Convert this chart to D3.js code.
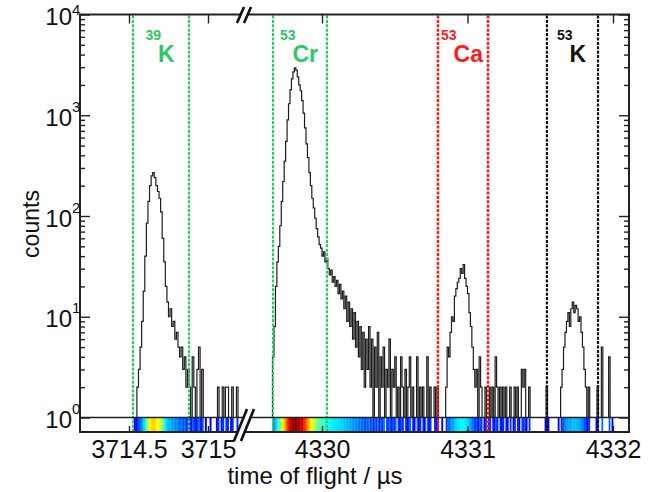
<!DOCTYPE html>
<html>
<head>
<meta charset="utf-8">
<script src="https://cdn.jsdelivr.net/npm/d3@7"></script>
<style>
  body { margin: 0; background: #fff; }
  svg { display: block; }
  text { font-family: "Liberation Sans", Arial, Helvetica, sans-serif; }
</style>
</head>
<body>
<svg id="chart" width="648" height="492"></svg>
<script>
// Time-of-flight spectrum (counts per 0.01 µs bin) on a broken time axis.
const binWidth = 0.01;

// Left part of the axis: 39K reference ions
const leftStart = 3714.52;
const leftCounts = [
  0,1,1,2,3,5,9,18,40,85,
  140,200,250,270,240,200,175,150,110,60,
  35,20,14,10,12,8,9,6,7,5,
  4,5,3,4,2,3,2,1,4,2,
  1,3,5,1,3,0,1,0,0,1,
  0,0,0,1,2,0,1,2,0,2,
  2,0,1,2,0,0,2,0
];

// Right part of the axis: 53Cr, 53Ca and 53K
const rightStart = 4329.65;
const rightCounts = [
  0,4,8,20,35,50,80,140,220,350,
  550,900,1300,1800,2300,2700,2950,2800,2400,2000,
  1750,1400,1050,750,520,380,270,200,150,120,
  95,75,62,52,48,40,44,35,38,30,
  26,29,22,25,20,23,17,21,15,18,
  12,16,9,14,8,12,6,11,5,9,
  4,8,3,7,2,6,3,8,2,6,
  1,5,2,7,1,4,2,5,0,3,
  2,6,1,3,2,4,0,2,1,4,
  2,0,3,1,2,4,0,2,1,0,
  4,1,2,0,2,1,0,4,1,2,
  0,0,2,1,2,0,0,1,0,0,
  2,5,4,7,10,9,16,19,22,24,
  30,27,33,24,20,17,11,8,5,3,
  2,3,1,4,2,0,1,2,0,1,
  2,0,2,1,4,2,0,2,1,2,
  0,2,1,0,2,0,1,2,0,2,
  1,0,3,2,3,1,0,2,0,0,
  0,0,0,0,0,0,0,0,1,2,
  1,0,0,0,0,0,0,1,0,2,
  3,5,7,9,11,8,12,14,11,13,
  12,9,10,7,5,3,2,1,2,0,
  0,0,0,1,2,0,0,5,0,0,
  0,0,4,0,1,0,0,0,0,0,
  0,0,0,0,0,0
];

// Tick values
const leftTicks = [3714.5, 3715];
const rightTicks = [4330, 4331, 4332];
const yTicks = [1, 10, 100, 1000, 10000];

// Time windows of the identified species
const windowMass   = ["39", "53", "53", "53"];
const windowSymbol = ["K", "Cr", "Ca", "K"];
const windowSide   = ["left", "right", "right", "right"];
const windowLo     = [3714.525, 4329.663, 4330.797, 4331.546];
const windowHi     = [3714.880, 4330.034, 4331.141, 4331.897];

// ---------------------------------------------------------------------------
const windowColors = ["#2ec865", "#2ec865", "#ff1a1a", "#111111"];

const svg = d3.select("#chart");
const W = 648, H = 492;
const frame = { left: 80, right: 629, top: 14.5, bottom: 432, stripTop: 417.5 };
const segL = [frame.left, 241];
const segR = [247, frame.right];
const breakX = 244;

const xL = d3.scaleLinear().domain([3714.5, 3715]).range([129, 208]);
const xR = d3.scaleLinear().domain([4330, 4332]).range([322, 613]);
const y = d3.scaleLog().domain([1, 1e4]).range([frame.stripTop, frame.top]);
const yv = c => c > 0 ? y(c) : frame.bottom + 30;

// jet colour map for the intensity strip
function jet(t) {
  const c = v => Math.max(0, Math.min(1, v));
  return d3.rgb(
    255 * c(1.5 - Math.abs(4 * t - 3)),
    255 * c(1.5 - Math.abs(4 * t - 2)),
    255 * c(1.5 - Math.abs(4 * t - 1)));
}
const stripT = d3.scaleLog().domain([1, 30, 3000]).range([0.12, 0.375, 1]).clamp(true);

svg.append("rect").attr("width", W).attr("height", H).attr("fill", "#fff");

const defs = svg.append("defs");
[["clipL", segL], ["clipR", segR]].forEach(([id, seg]) => {
  defs.append("clipPath").attr("id", id).append("rect")
    .attr("x", seg[0]).attr("y", frame.top)
    .attr("width", seg[1] - seg[0]).attr("height", frame.stripTop - frame.top);
  defs.append("clipPath").attr("id", id + "s").append("rect")
    .attr("x", seg[0]).attr("y", frame.stripTop)
    .attr("width", seg[1] - seg[0]).attr("height", frame.bottom - frame.stripTop);
});

const segments = [
  { x: xL, start: leftStart, counts: leftCounts, clip: "clipL" },
  { x: xR, start: rightStart, counts: rightCounts, clip: "clipR" }
];

// intensity strip below the spectrum
segments.forEach(s => {
  const bins = s.counts.map((c, i) => ({ t: s.start + i * binWidth, c })).filter(b => b.c > 0);
  const bw = s.x(s.start + binWidth) - s.x(s.start);
  svg.append("g").attr("clip-path", `url(#${s.clip}s)`)
    .selectAll("rect").data(bins).join("rect")
    .attr("x", b => s.x(b.t))
    .attr("y", frame.stripTop)
    .attr("width", bw + 0.4)
    .attr("height", frame.bottom - frame.stripTop)
    .attr("fill", b => jet(stripT(b.c)));
});

// histogram as a step line
const line = d3.line().curve(d3.curveStepAfter);
segments.forEach(s => {
  const pts = s.counts.map((c, i) => [s.x(s.start + i * binWidth), yv(c)]);
  pts.push([s.x(s.start + s.counts.length * binWidth), yv(0)]);
  svg.append("path")
    .attr("clip-path", `url(#${s.clip})`)
    .attr("d", line(pts))
    .attr("fill", "none")
    .attr("stroke", "#1c1c1c")
    .attr("stroke-width", 1.2)
    .attr("stroke-linejoin", "miter");
});

// dashed window boundaries
windowLo.forEach((lo, i) => {
  const sx = windowSide[i] === "left" ? xL : xR;
  [lo, windowHi[i]].forEach(t => {
    svg.append("line")
      .attr("x1", sx(t)).attr("x2", sx(t))
      .attr("y1", frame.top + 1).attr("y2", frame.bottom)
      .attr("stroke", windowColors[i])
      .attr("stroke-width", i === 2 ? 2.5 : 2.2)
      .attr("stroke-dasharray", "3,1.4");
  });
});

// frame and strip separator
const ink = "#222";
svg.append("rect")
  .attr("x", frame.left).attr("y", frame.top)
  .attr("width", frame.right - frame.left).attr("height", frame.bottom - frame.top)
  .attr("fill", "none").attr("stroke", ink).attr("stroke-width", 2);
svg.append("line")
  .attr("x1", frame.left).attr("x2", frame.right)
  .attr("y1", frame.stripTop).attr("y2", frame.stripTop)
  .attr("stroke", ink).attr("stroke-width", 1.6);

// y axes (log): inward ticks on both sides
const minorY = [];
[1, 10, 100, 1000].forEach(d => { for (let k = 2; k <= 9; k++) minorY.push(d * k); });

function styleAxis(g) {
  g.select(".domain").remove();
  g.attr("color", ink);
  g.selectAll(".tick line").attr("stroke-width", 1.4);
  return g;
}

const gyL = svg.append("g").attr("transform", `translate(${frame.left},0)`)
  .call(d3.axisLeft(y).tickValues(yTicks).tickSizeInner(-10).tickSizeOuter(0).tickFormat(""));
styleAxis(gyL);
svg.append("g").attr("transform", `translate(${frame.left},0)`)
  .call(d3.axisLeft(y).tickValues(minorY).tickSizeInner(-5).tickSizeOuter(0).tickFormat(""))
  .call(styleAxis);
svg.append("g").attr("transform", `translate(${frame.right},0)`)
  .call(d3.axisRight(y).tickValues(yTicks).tickSizeInner(-10).tickSizeOuter(0).tickFormat(""))
  .call(styleAxis);
svg.append("g").attr("transform", `translate(${frame.right},0)`)
  .call(d3.axisRight(y).tickValues(minorY).tickSizeInner(-5).tickSizeOuter(0).tickFormat(""))
  .call(styleAxis);

// power-of-ten labels; the exponent is kept inside the top edge
gyL.selectAll(".tick").each(function (d) {
  const g = d3.select(this);
  const e = Math.round(Math.log10(d));
  const supY = Math.max(-4, 14 - y(d));
  g.append("text").attr("x", -8).attr("y", 10)
    .attr("text-anchor", "end").attr("fill", "#111")
    .attr("font-size", 24).text("10");
  g.append("text").attr("x", -8).attr("y", supY)
    .attr("text-anchor", "start").attr("fill", "#111")
    .attr("font-size", 15).text(e);
});

// x axes, one per segment
[[xL, leftTicks], [xR, rightTicks]].forEach(([sx, ticks]) => {
  svg.append("g").attr("transform", `translate(0,${frame.bottom})`)
    .call(d3.axisBottom(sx).tickValues(ticks).tickSizeInner(-6).tickSizeOuter(0)
      .tickPadding(8).tickFormat(d => String(d)))
    .call(styleAxis)
    .call(g => g.selectAll("text").attr("font-size", 25).attr("fill", "#111")
      .attr("font-family", "'Liberation Sans', Arial, sans-serif"));
  svg.append("g").attr("transform", `translate(0,${frame.top})`)
    .call(d3.axisTop(sx).tickValues(ticks).tickSizeInner(-9).tickSizeOuter(0).tickFormat(""))
    .call(styleAxis);
});

// axis break marks
function breakMark(yTop, yBot, slant, gap) {
  const x0 = breakX - slant / 2 - gap / 2;
  const poly = [[x0, yBot], [x0 + slant, yTop], [x0 + slant + gap, yTop], [x0 + gap, yBot]];
  svg.append("polygon").attr("points", poly.map(p => p.join(",")).join(" ")).attr("fill", "#fff");
  [0, gap].forEach(dx => {
    svg.append("line")
      .attr("x1", x0 + dx).attr("y1", yBot)
      .attr("x2", x0 + dx + slant).attr("y2", yTop)
      .attr("stroke", "#111").attr("stroke-width", 2.6);
  });
}
breakMark(7, 23, 7, 7);
breakMark(409, 441, 13, 7);

// window labels: superscript mass number tucked against the element symbol
windowMass.forEach((m, i) => {
  const sx = windowSide[i] === "left" ? xL : xR;
  const cx = (sx(windowLo[i]) + sx(windowHi[i])) / 2 - 1;
  const t = svg.append("text").attr("x", cx).attr("y", 62)
    .attr("text-anchor", "middle").attr("fill", windowColors[i])
    .attr("font-weight", "bold");
  t.append("tspan").attr("font-size", 14).attr("dy", -22).text(m);
  t.append("tspan").attr("font-size", 23).attr("dy", 22).attr("dx", -3).text(windowSymbol[i]);
});

// axis titles
svg.append("text")
  .attr("x", 315).attr("y", 484)
  .attr("text-anchor", "middle").attr("font-size", 24).attr("fill", "#111")
  .text("time of flight / µs");
svg.append("text")
  .attr("transform", "translate(39,224) rotate(-90)")
  .attr("text-anchor", "middle").attr("font-size", 23).attr("fill", "#111")
  .text("counts");
</script>
</body>
</html>
